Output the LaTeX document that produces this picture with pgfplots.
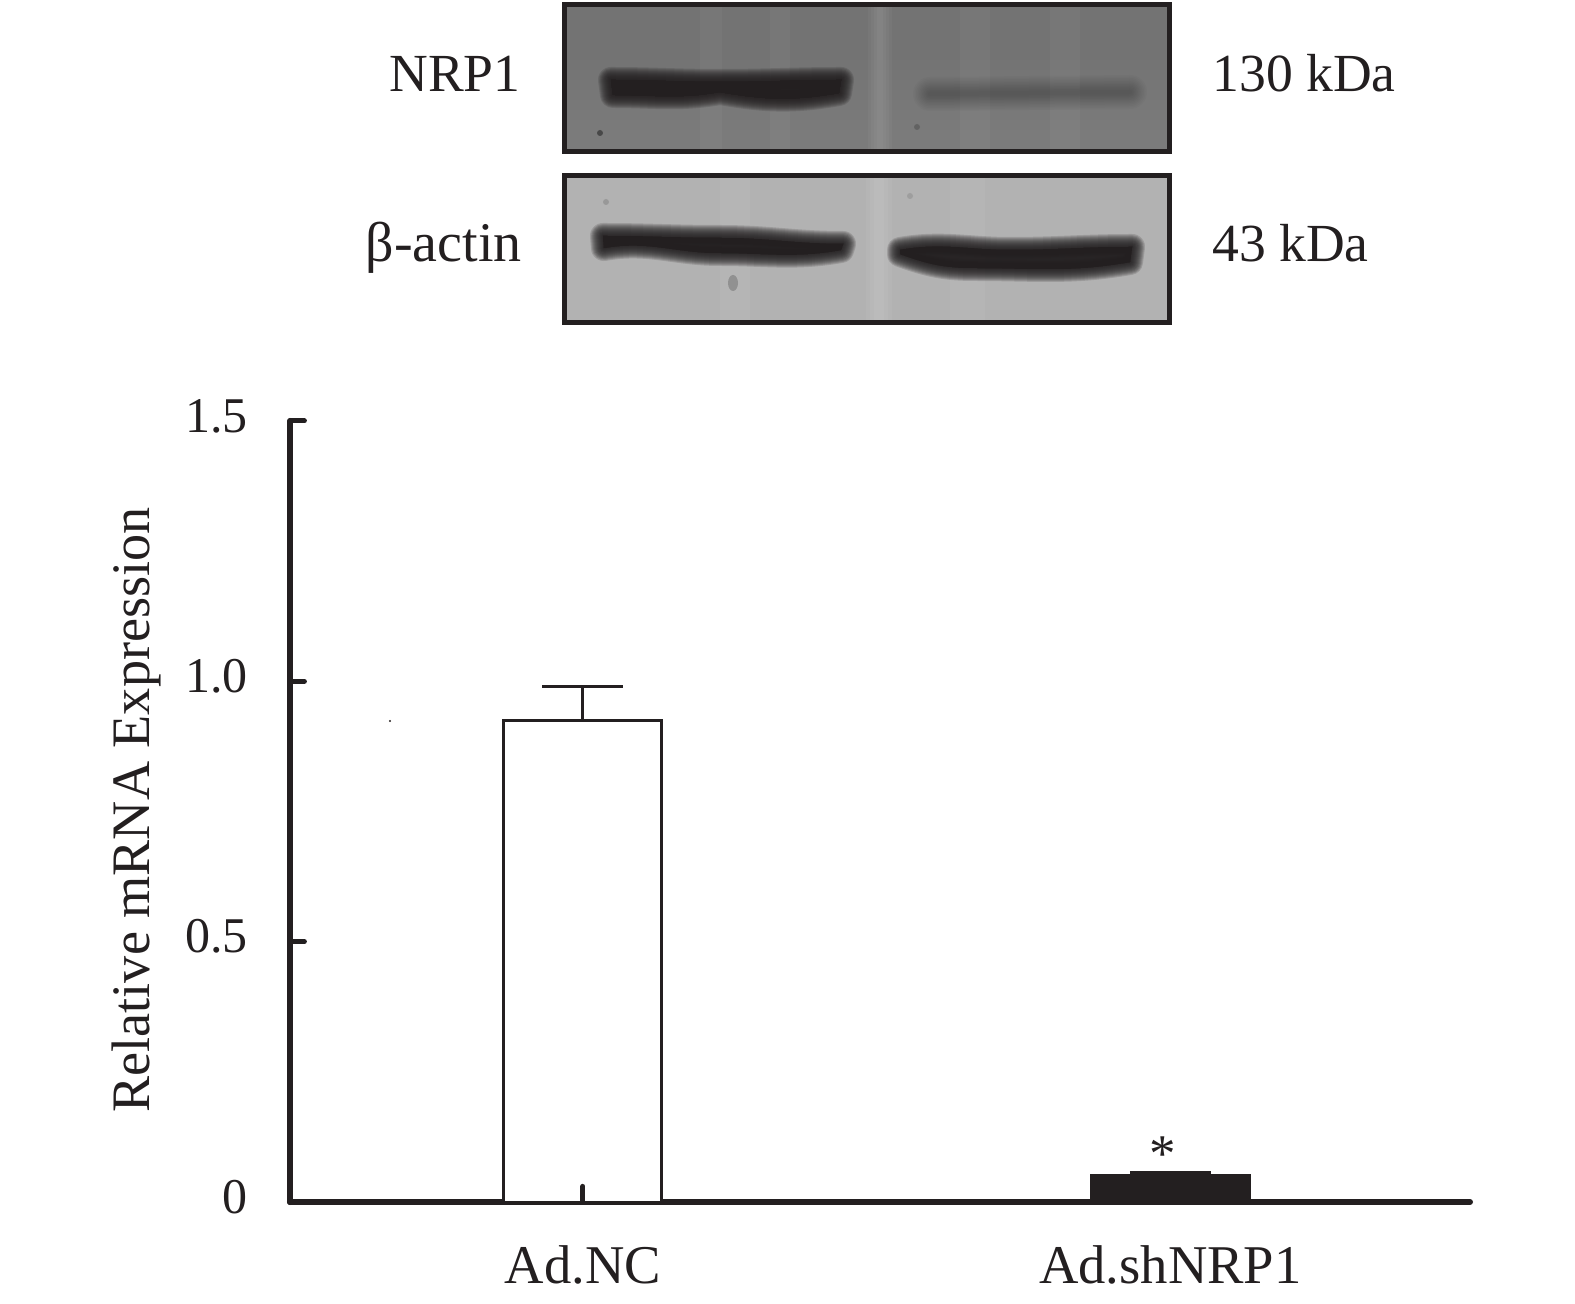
\documentclass[border=0pt]{standalone}
\usepackage{fontspec}
\setmainfont{Liberation Serif}
\usepackage{pgfplots}
\pgfplotsset{compat=1.18}
\definecolor{ink}{HTML}{231F20}
\newcommand{\band}[3]{% #1 colour, #2 step opacity, #3 path
  \foreach \w in {26,24,22,20,18,16,14,12,10,8,6,4,2}{
    \fill[#1,draw=#1,opacity=#2,line width=\w*0.5pt,line join=round] #3;
  }
}
\begin{document}
\begin{tikzpicture}
\path[use as bounding box] (0pt,0pt) rectangle (787.5pt,651.5pt);
\begin{scope}[shift={(0pt,651.5pt)},x=0.5pt,y=-0.5pt]
  % upper blot
  \begin{scope}
    \clip (565,3) rectangle (1170,153);
    \fill[black!55] (565,3) rectangle (1170,153);
    \foreach \y in {60,70,80,90,100,110,120,130}{\fill[white,opacity=0.012] (565,\y) rectangle (1170,153);}
    \foreach \a/\b in {868/892,871/889,874/886,877/883,700/722,770/790,960/990,1050/1080}{\fill[white,opacity=0.03] (\a,3) rectangle (\b,153);}
    \band{ink}{0.16}{(611,80) to[out=0,in=180] (720,82) to[out=0,in=180] (841,80) -- (839,93) to[out=190,in=-10] (720,92) to[out=190,in=0] (613,95) -- cycle}
    \foreach \w in {34,31,28,25,22,19,16,13,10,7,4}{
      \draw[black!85,opacity=0.035,line width=\w*0.5pt,line cap=round] (930,94) -- (1130,92);
    }
    \fill[black!80,opacity=.7] (600,133) circle (3);
    \fill[black!70,opacity=.5] (917,127) circle (3);
  \end{scope}
  \draw[ink,line width=2.2pt] (564.5,4.5) rectangle (1169.5,151.5);
  % lower blot
  \begin{scope}
    \clip (565,175) rectangle (1170,323);
    \fill[black!30] (565,175) rectangle (1170,323);
    \foreach \a/\b in {866/892,870/888,874/884,720/750,950/985}{\fill[white,opacity=0.05] (\a,175) rectangle (\b,323);}
    \band{ink}{0.16}{(603,236) to[out=0,in=180] (720,238) to[out=0,in=180] (843,244) -- (841,250) to[out=190,in=0] (720,253) to[out=180,in=10] (604,248) -- cycle}
    \band{ink}{0.16}{(900,250) to[out=10,in=180] (1010,250) to[out=0,in=180] (1132,247) -- (1130,262) to[out=190,in=0] (975,268) to[out=180,in=-20] (900,254) -- cycle}
    \fill[black!60,opacity=.45] (733,283) ellipse (5 and 8);
    \fill[black!55,opacity=.4] (606,202) circle (3);
    \fill[black!55,opacity=.3] (910,196) circle (3);
  \end{scope}
  \draw[ink,line width=2.2pt] (564.5,175.5) rectangle (1169.5,322.5);
  % blot labels
  \node[anchor=base east,inner sep=0pt,text=ink,font=\fontsize{26.8pt}{30pt}\selectfont] at (521,92) {NRP1};
  \node[anchor=base east,inner sep=0pt,text=ink,font=\fontsize{28pt}{30pt}\selectfont] at (522,262) {β-actin};
  \node[anchor=base west,inner sep=0pt,text=ink,font=\fontsize{26.8pt}{30pt}\selectfont] at (1212,92) {130 kDa};
  \node[anchor=base west,inner sep=0pt,text=ink,font=\fontsize{26.8pt}{30pt}\selectfont] at (1212,262) {43 kDa};
  \fill[ink] (390,721) circle (1.2);
\end{scope}
\begin{axis}[
  at={(145pt,50.5pt)},anchor=south west,
  scale only axis,width=590pt,height=390.5pt,
  axis lines=left,
  axis line style={-,ink,line width=3pt,line cap=round},
  xmin=-0.4987,xmax=1.5099,ymin=0,ymax=1.5,
  clip=false,
  xtick={0,1},xticklabels={Ad.NC,Ad.shNRP1},
  ytick={0,0.5,1,1.5},yticklabels={0,0.5,1.0,1.5},
  tick align=inside,
  major tick length=7.2pt,
  ytick style={ink,line width=2.5pt,line cap=round},
  xtick style={draw=none},
  tick label style={text=ink,font=\fontsize{27.3pt}{30pt}\selectfont},
  yticklabel style={anchor=east,inner sep=0pt,xshift=-21pt,yshift=2.5pt,font=\fontsize{25pt}{30pt}\selectfont},
  xticklabel style={anchor=base,inner sep=0pt,yshift=-33.5pt},
  ylabel={Relative mRNA Expression},
  ylabel style={at={(axis description cs:-0.119,0.502)},anchor=base,text=ink,inner sep=0pt,font=\fontsize{27.1pt}{30pt}\selectfont},
  ybar,bar width=79pt,
]
\addplot[ybar,bar shift=0pt,draw=ink,fill=white,line width=1.5pt,
  error bars/.cd,y dir=plus,y explicit,
  error bar style={ink,line width=1.5pt},
  error mark options={ink,line width=1.5pt,mark size=20.25pt,rotate=90}]
  coordinates {(0,0.924) +- (0,0.067)};
\addplot[ybar,bar shift=0pt,draw=ink,fill=ink,line width=1.5pt,
  error bars/.cd,y dir=plus,y explicit,
  error bar style={ink,line width=1.5pt},
  error mark options={ink,line width=1.5pt,mark size=20.25pt,rotate=90}]
  coordinates {(1,0.0507) +- (0,0.0063)};
\addplot[sharp plot,ink,line width=2.5pt,line cap=round,forget plot] coordinates {(0,0) (0,0.03)};
\node[text=ink,inner sep=0pt,font=\fontsize{26.5pt}{30pt}\selectfont] at (axis cs:0.987,0.092) {*};
\end{axis}
\end{tikzpicture}
\end{document}
